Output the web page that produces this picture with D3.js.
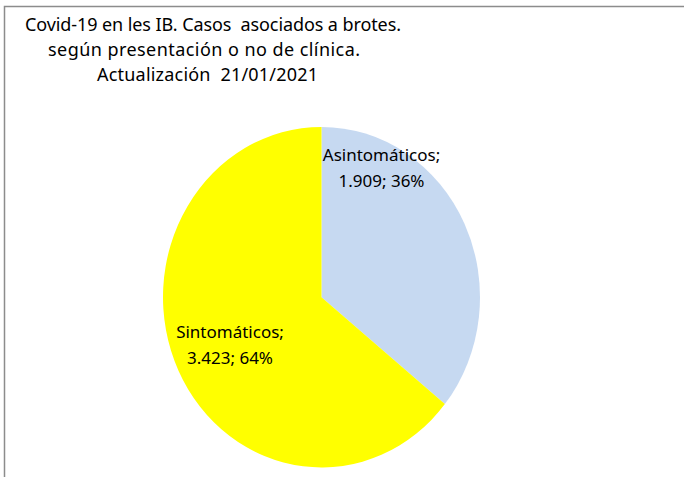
<!DOCTYPE html>
<html>
<head>
<meta charset="utf-8">
<script src="https://cdn.jsdelivr.net/npm/d3@7"></script>
<style>
  html, body { margin: 0; padding: 0; background: #fff; }
  svg { display: block; font-family: "Noto Sans", "Open Sans", sans-serif; }
</style>
</head>
<body>
<svg id="chart" width="684" height="477"></svg>
<script>
// Casos asociados a brotes, según presentación clínica
const categories = ["Asintomáticos", "Sintomáticos"];
const values = [1909, 3423];
const valueLabels = ["1.909", "3.423"];
const percentLabels = ["36%", "64%"];
const colors = ["#c6d9f1", "#ffff00"];
const titleLines = [
  "Covid-19 en les IB. Casos  asociados a brotes.",
  "según presentación o no de clínica.",
  "Actualización  21/01/2021"
];

const svg = d3.select("#chart");

// chart frame
svg.append("rect")
  .attr("x", 4.5).attr("y", 6.5)
  .attr("width", 700).attr("height", 500)
  .attr("fill", "none")
  .attr("stroke", "#8c8c8c")
  .attr("stroke-width", 1.5);

// title
const titleX = [25, 48, 97];
const titleW = [376, 312, 221];
svg.append("g").selectAll("text")
  .data(titleLines)
  .join("text")
  .attr("x", (d, i) => titleX[i])
  .attr("y", (d, i) => 30.5 + i * 25)
  .attr("font-size", 18)
  .attr("fill", "#000")
  .attr("textLength", (d, i) => titleW[i])
  .attr("lengthAdjust", "spacing")
  .style("white-space", "pre")
  .text(d => d);

// pie, slightly narrower than tall
const cx = 321.5, cy = 297.2, ry = 170.3, rx = 158.5;
const pie = d3.pie().sort(null).value(d => d)(values);
const arc = d3.arc().innerRadius(0).outerRadius(ry);

svg.append("g")
  .attr("transform", `translate(${cx},${cy}) scale(${rx / ry},1)`)
  .selectAll("path")
  .data(pie)
  .join("path")
  .attr("d", arc)
  .attr("fill", (d, i) => colors[i]);

// data labels
const labelPos = [[381.5, 161], [230, 338]];
const labels = svg.append("g");
pie.forEach((d, i) => {
  const t = labels.append("text")
    .attr("text-anchor", "middle")
    .attr("font-size", 17)
    .attr("fill", "#000");
  t.append("tspan")
    .attr("x", labelPos[i][0]).attr("y", labelPos[i][1])
    .text(categories[i] + ";");
  t.append("tspan")
    .attr("x", labelPos[i][0]).attr("y", labelPos[i][1] + 26)
    .text(valueLabels[i] + "; " + percentLabels[i]);
});
</script>
</body>
</html>
